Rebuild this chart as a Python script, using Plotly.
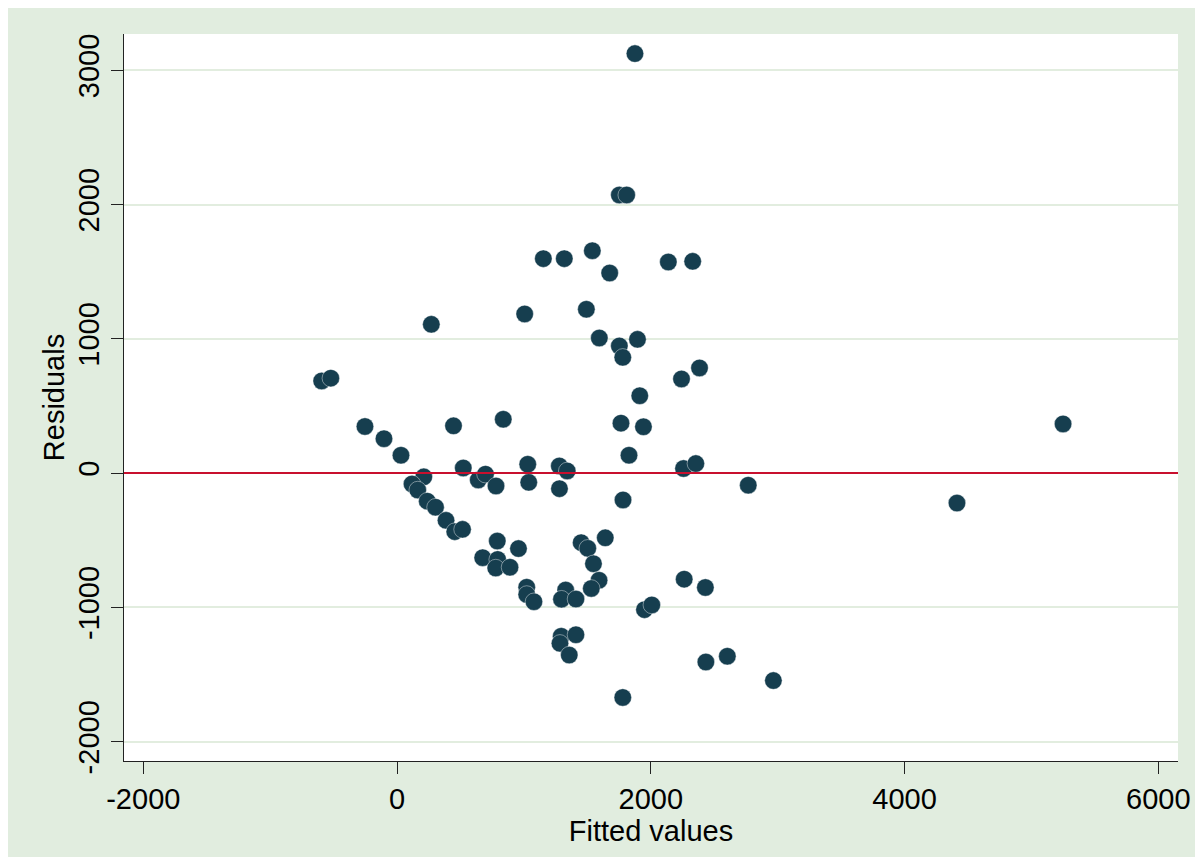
import plotly.graph_objects as go

# Fitted values (x) and residuals (y)
fitted = [1875, 1752, 1810, 1153, 1318, 1539, 1676, 2138, 2330, 270,
          1006, 1492, 1594, 1752, 1779, 1895, -594, -522, 2242, 2384,
          1913, -253, -103, 31, 445, 837, 1765, 1942, 1828, 522,
          1030, 1279, 1341, 2258, 2355, 211, 118, 163, 640, 697,
          780, 1038, 1280, 1781, 2768, 238, 303, 386, 455, 516,
          790, 957, 675, 793, 778, 890, 1451, 1503, 1641, 1548,
          1592, 1531, 1022, 1022, 1079, 1329, 1296, 1410, 2263, 2430,
          1950, 2008, 1294, 1284, 1410, 1357, 2434, 2603, 2966, 1779,
          4413, 5249]
residuals = [3124, 2071, 2071, 1597, 1597, 1656, 1490, 1572, 1577, 1108,
             1185, 1220, 1006, 947, 862, 996, 686, 707, 701, 783,
             576, 347, 256, 133, 352, 401, 372, 345, 133, 38,
             66, 53, 16, 34, 71, -28, -81, -126, -51, -8,
             -96, -69, -116, -200, -90, -209, -254, -352, -436, -419,
             -506, -562, -630, -643, -707, -701, -518, -560, -482, -675,
             -798, -859, -850, -904, -958, -871, -939, -938, -790, -852,
             -1017, -982, -1215, -1268, -1204, -1355, -1407, -1364, -1545, -1671,
             -223, 366]

x_ticks = [-2000, 0, 2000, 4000, 6000]
y_ticks = [-2000, -1000, 0, 1000, 2000, 3000]
ref_line_y = 0

bg_green = "#e1eddf"
grid_green = "#e2eddf"
marker_col = "#163e4f"
font_family = "Liberation Sans, Arial, Helvetica, sans-serif"

fig = go.Figure()
fig.add_trace(go.Scatter(
    x=fitted, y=residuals, mode="markers",
    marker=dict(size=17.5, color=marker_col,
                line=dict(width=0.6, color="rgba(255,255,255,0.7)")),
    showlegend=False, hoverinfo="x+y"))

# reference line at zero
fig.add_shape(type="line", xref="paper", yref="y", x0=0, x1=1,
              y0=ref_line_y, y1=ref_line_y,
              line=dict(color="#c8102e", width=2), layer="above")

fig.update_layout(
    width=1203, height=857,
    margin=dict(l=116, r=33, t=26, b=104, autoexpand=False),
    paper_bgcolor=bg_green, plot_bgcolor="white",
    font=dict(family=font_family, size=29, color="black"),
    xaxis=dict(range=[-2152, 6155], tickvals=x_ticks,
               ticktext=[str(v) for v in x_ticks],
               showgrid=False, zeroline=False,
               showline=True, linecolor="#222222", linewidth=1.4,
               ticks="outside", ticklen=12, tickwidth=1.4, tickcolor="#222222",
               tickfont=dict(size=29),
               title=dict(text="Fitted values", font=dict(size=29), standoff=3)),
    yaxis=dict(range=[-2144, 3270], tickvals=y_ticks,
               ticktext=[str(v) for v in y_ticks],
               showgrid=True, gridcolor=grid_green, gridwidth=2,
               zeroline=False,
               showline=True, linecolor="#222222", linewidth=1.4,
               ticks="outside", ticklen=12, tickwidth=1.4, tickcolor="#222222",
               tickangle=-90, tickfont=dict(size=29),
               title=dict(text="Residuals", font=dict(size=29), standoff=0)),
)

fig.write_html("out.html")
